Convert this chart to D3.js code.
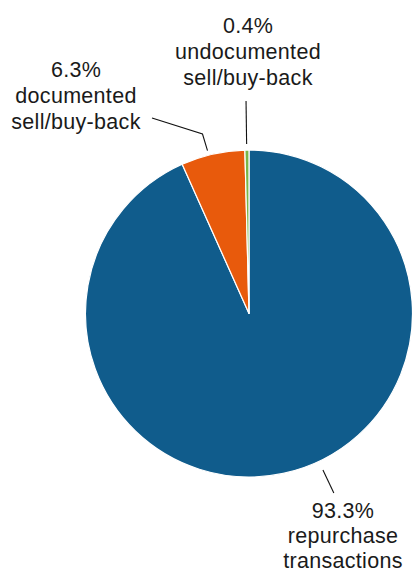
<!DOCTYPE html>
<html>
<head>
<meta charset="utf-8">
<script src="https://cdn.jsdelivr.net/npm/d3@7"></script>
<style>
  html, body { margin: 0; padding: 0; background: #ffffff; }
  svg { display: block; }
  text { font-family: "Liberation Sans", Arial, Helvetica, sans-serif; fill: #1a1a1a; }
</style>
</head>
<body>
<svg id="chart" width="412" height="574"></svg>
<script>
// ---- data ----
const categories = ["repurchase transactions", "documented sell/buy-back", "undocumented sell/buy-back"];
const values = [93.3, 6.3, 0.4];
const labelLines = [["93.3%", "repurchase", "transactions"], ["6.3%", "documented", "sell/buy-back"], ["0.4%", "undocumented", "sell/buy-back"]];
const colors = ["#105c8c", "#e85a0c", "#7ab648"];

// ---- layout ----
const W = 412, H = 574;
const cx = 249, cy = 313.5, R = 163.5;
const fontSize = 21.5, lineH = 26;
// label layout: text centre x, first baseline y, leader polyline (angle in degrees from top clockwise, radius offsets), elbow
const labelLayout = [
  { tx: 343, ty: 518, lh: 25, leader: [{ a: 154.7, r: 9.5 }, { a: 154.7, r: 35 }] },
  { tx: 76, ty: 77, lh: lineH, leader: [{ a: -14.3, r: 4.5 }, { xy: [202.5, 134] }, { xy: [152, 118] }] },
  { tx: 248, ty: 32.5, lh: lineH, leader: [{ a: -0.8, r: 6 }, { a: -0.8, r: 49 }] }
];

const svg = d3.select("#chart");
const g = svg.append("g").attr("transform", `translate(${cx},${cy})`);

const pie = d3.pie().sort(null).value(d => d)(values);
const arc = d3.arc().innerRadius(0).outerRadius(R);

g.selectAll("path.slice")
  .data(pie)
  .join("path")
  .attr("class", "slice")
  .attr("d", arc)
  .attr("fill", (d, i) => colors[i])
  .attr("stroke", "#ffffff")
  .attr("stroke-width", 1.2)
  .attr("stroke-linejoin", "round");

function polar(aDeg, r) {
  const a = aDeg * Math.PI / 180;
  return [cx + r * Math.sin(a), cy - r * Math.cos(a)];
}

const line = d3.line();
labelLayout.forEach((L, i) => {
  const pts = L.leader.map(p => p.xy ? p.xy : polar(p.a, R + p.r));
  svg.append("path")
    .attr("d", line(pts))
    .attr("fill", "none")
    .attr("stroke", "#111")
    .attr("stroke-width", 1.1);
  const t = svg.append("text")
    .attr("text-anchor", "middle")
    .attr("font-size", fontSize)
    .attr("letter-spacing", 0.3);
  labelLines[i].forEach((s, k) => {
    t.append("tspan").attr("x", L.tx).attr("y", L.ty + k * L.lh).text(s);
  });
});
</script>
</body>
</html>
